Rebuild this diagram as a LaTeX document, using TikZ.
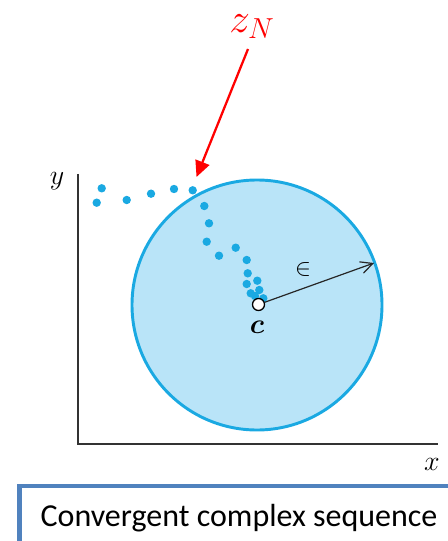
\RequirePackage{fix-cm}
\documentclass[tikz,border=0pt]{standalone}
\usepackage{amsmath}
\usepackage{bm}
\usepackage{fontspec}
\newfontfamily\boxfont{Carlito}
\usetikzlibrary{arrows.meta}
\definecolor{dotblue}{HTML}{1AA9E2}
\definecolor{fillblue}{HTML}{B9E4F8}
\definecolor{boxblue}{HTML}{5082BE}
\tikzset{
  dot/.style={circle,fill=dotblue,inner sep=0pt,minimum size=6.3pt},
  axis/.style={line width=1pt,black!80},
  mlab/.style={inner sep=0pt,font=\fontsize{21}{21}\selectfont},
}
\begin{document}
\begin{tikzpicture}[x=0.75pt,y=-0.75pt]
\useasboundingbox (0,0) rectangle (447,541);
% disc
\draw[line width=2.2pt,draw=dotblue,fill=fillblue] (257,305) circle (125);
% axes
\coordinate (o) at (78,444);
\coordinate (ytop) at (78,174);
\coordinate (xend) at (438,444);
\draw[axis] (ytop) -- (o) -- (xend);
\node[mlab] (ylab) at (57,181) {$y$};
\node[mlab] (xlab) at (432,464) {$x$};
% dots
\foreach \p [count=\i] in {(101.7,188.3),(96.7,202.7),(126.7,200),(151,193.7),(174,189),(192.7,190.3),(204.3,206),(209,223.3),(206.7,241.7),(219,255.7),(235.7,247.7),(246.7,260),(247.7,273.3),(246.7,284),(257.3,280.7),(259.3,290),(250.7,293.3),(263.3,298.3),(255,296)}
  \node[dot] (d\i) at \p {};
% centre
\node[circle,draw=black,line width=1pt,fill=white,inner sep=0pt,minimum size=9pt] (c) at (258.5,304.5) {};
\node[mlab] (clab) at (257,327) {$\bm{c}$};
\coordinate (edge) at (374,263);
\draw[line width=0.9pt,black!85,-{Straight Barb[length=9pt,width=9pt]}] (c) -- (edge);
\node[inner sep=0pt,font=\fontsize{18}{18}\selectfont] (eps) at (303,269.5) {$\in$};
% red arrow and label
\node[text=red,inner sep=0pt,font=\fontsize{31}{31}\selectfont] (zn) at (252,27) {$z_N$};
\coordinate (ztail) at (248,49);
\coordinate (zhead) at (196.5,177);
\draw[red,line width=1.7pt,-{Triangle[length=12pt,width=11pt]}] (ztail) -- (zhead);
% caption box
\draw[boxblue,line width=3.5pt,fill=white] (19.5,486) rectangle (470,570);
\node[anchor=center] (cap) at (239,518) {\boxfont\fontsize{24}{24}\selectfont Convergent complex sequence};
\end{tikzpicture}
\end{document}
